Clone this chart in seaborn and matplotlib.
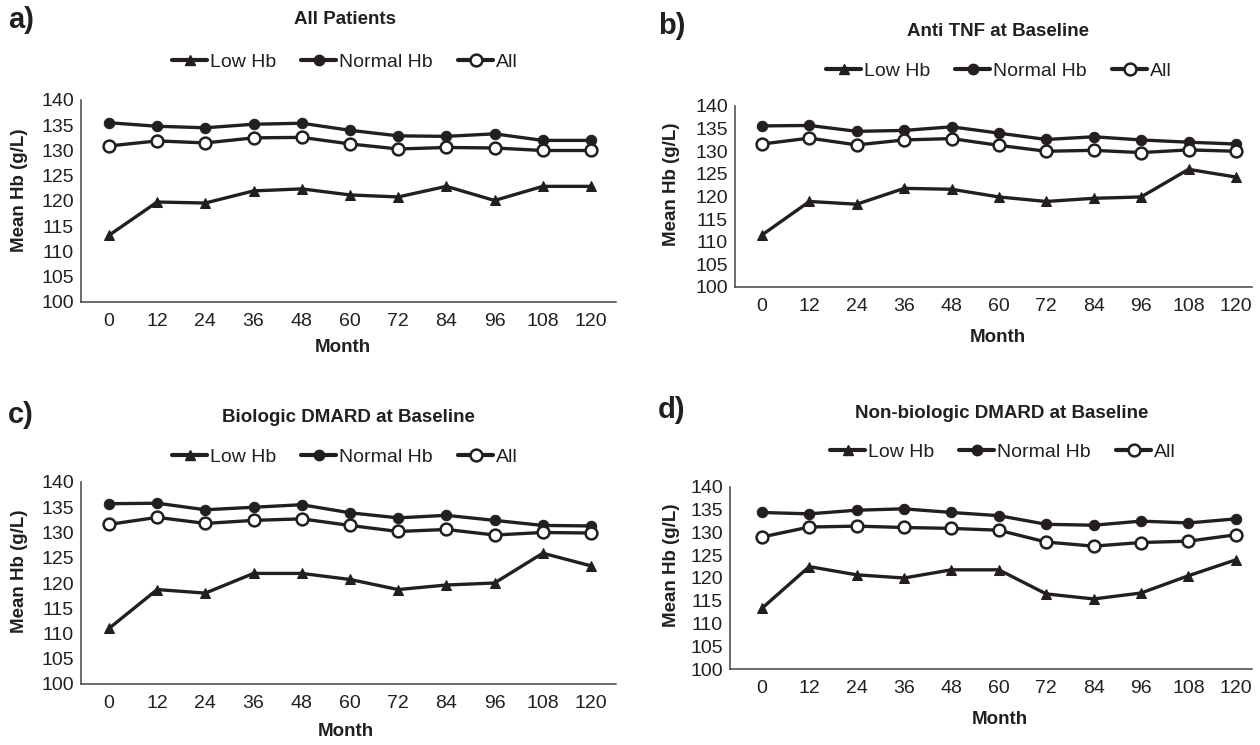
import pandas as pd
import matplotlib.pyplot as plt
import seaborn as sns
from matplotlib.lines import Line2D

# months on the x axis
months = [0, 12, 24, 36, 48, 60, 72, 84, 96, 108, 120]

# a) All Patients
a_low = [113.2, 119.8, 119.6, 122.0, 122.4, 121.2, 120.8, 122.9, 120.1, 122.9, 122.9]
a_normal = [135.5, 134.8, 134.5, 135.2, 135.4, 134.0, 132.9, 132.8, 133.3, 132.0, 132.0]
a_all = [130.9, 131.9, 131.5, 132.5, 132.6, 131.3, 130.3, 130.6, 130.5, 130.0, 130.0]

# b) Anti TNF at Baseline
b_low = [111.5, 118.9, 118.3, 121.8, 121.6, 119.9, 118.9, 119.6, 119.9, 126.0, 124.3]
b_normal = [135.6, 135.7, 134.4, 134.6, 135.4, 134.0, 132.6, 133.2, 132.5, 132.0, 131.6]
b_all = [131.6, 132.9, 131.4, 132.5, 132.8, 131.3, 130.0, 130.2, 129.7, 130.3, 130.0]

# c) Biologic DMARD at Baseline
c_low = [111.0, 118.7, 118.0, 121.9, 121.9, 120.7, 118.7, 119.6, 120.0, 125.9, 123.4]
c_normal = [135.7, 135.8, 134.5, 135.0, 135.5, 133.9, 132.9, 133.4, 132.4, 131.4, 131.3]
c_all = [131.6, 133.0, 131.8, 132.4, 132.7, 131.4, 130.2, 130.6, 129.5, 130.0, 129.9]

# d) Non-biologic DMARD at Baseline
d_low = [113.3, 122.5, 120.7, 120.0, 121.8, 121.8, 116.5, 115.4, 116.7, 120.5, 124.0]
d_normal = [134.4, 134.1, 134.9, 135.2, 134.4, 133.7, 131.8, 131.6, 132.5, 132.1, 133.0]
d_all = [129.0, 131.2, 131.4, 131.1, 130.9, 130.5, 127.9, 127.0, 127.8, 128.1, 129.5]

series_names = ['Low Hb', 'Normal Hb', 'All']
yticks = [100, 105, 110, 115, 120, 125, 130, 135, 140]

sns.set_style('white')
plt.rcParams['font.family'] = ['Liberation Sans', 'DejaVu Sans']

W, H = 1260, 745
INK = '#231f20'

STYLES = {
    'Low Hb': dict(marker='^', markersize=7, markerfacecolor=INK, markeredgecolor=INK),
    'Normal Hb': dict(marker='o', markersize=7.5, markerfacecolor=INK, markeredgecolor=INK),
    'All': dict(marker='o', markersize=8.5, markerfacecolor='white', markeredgecolor=INK, markeredgewidth=1.8),
}


def px(x, y):
    return x / W, 1 - y / H


def draw_panel(fig, box, xlim, low, normal, allp, letter, title, lab_xy, title_xy, leg_xy, month_xy, ylab_xy):
    left, top, right, bottom = box
    ax = fig.add_axes([left / W, 1 - bottom / H, (right - left) / W, (bottom - top) / H])

    df = pd.DataFrame({
        'pos': list(range(len(months))) * 3,
        'value': low + normal + allp,
        'group': [n for n in series_names for _ in months],
    })

    for name in series_names:
        sub = df[df['group'] == name]
        sns.lineplot(data=sub, x='pos', y='value', ax=ax, color=INK, linewidth=2.4,
                     legend=False, **STYLES[name])

    ax.set_xlim(*xlim)
    ax.set_ylim(100, 140)
    ax.set_yticks(yticks)
    ax.set_xticks(range(len(months)))
    ax.set_xticklabels([str(m) for m in months])
    ax.tick_params(axis='y', length=4, width=1, color='#444', labelsize=14, pad=1, labelcolor=INK)
    ax.tick_params(axis='x', length=0, labelsize=14, pad=8, labelcolor=INK)
    ax.set_xlabel('')
    ax.set_ylabel('Mean Hb (g/L)', fontsize=13.5, fontweight='bold', color=INK)
    ax.yaxis.set_label_coords(*ylab_xy)
    for s in ['top', 'right']:
        ax.spines[s].set_visible(False)
    for s in ['left', 'bottom']:
        ax.spines[s].set_color('#444')
        ax.spines[s].set_linewidth(1.1)

    fig.text(*px(*lab_xy), letter, fontsize=21, fontweight='bold', color=INK, ha='left', va='center')
    fig.text(*px(*title_xy), title, fontsize=13.5, fontweight='bold', color=INK, ha='center', va='center')
    fig.text(*px(*month_xy), 'Month', fontsize=13.5, fontweight='bold', color=INK, ha='center', va='center')

    handles = [Line2D([], [], color=INK, linewidth=3, **STYLES[n]) for n in series_names]
    fig.legend(handles, series_names, loc='center', bbox_to_anchor=px(*leg_xy), ncol=3, frameon=False,
               fontsize=14, handlelength=1.8, handletextpad=0.15, columnspacing=1.3, labelcolor=INK)
    return ax


fig = plt.figure(figsize=(12.6, 7.45), dpi=100)

draw_panel(fig, (81, 100, 616, 302), (-0.58, 10.52), a_low, a_normal, a_all,
           'a)', 'All Patients', (8, 20), (345, 20), (345, 62), (343, 348), (-0.099, 0.555))
draw_panel(fig, (735, 106, 1252, 287), (-0.57, 10.34), b_low, b_normal, b_all,
           'b)', 'Anti TNF at Baseline', (658, 26), (998, 32), (999, 71), (998, 337), (-0.106, 0.57))
draw_panel(fig, (81, 482, 616, 684), (-0.58, 10.52), c_low, c_normal, c_all,
           'c)', 'Biologic DMARD at Baseline', (8, 415), (348, 418), (345, 457), (346, 732), (-0.099, 0.56))
draw_panel(fig, (730, 487, 1252, 669), (-0.67, 10.34), d_low, d_normal, d_all,
           'd)', 'Non-biologic DMARD at Baseline', (658, 410), (1002, 413), (1003, 452), (1000, 720), (-0.096, 0.57))

plt.savefig('out.png', dpi=100)
